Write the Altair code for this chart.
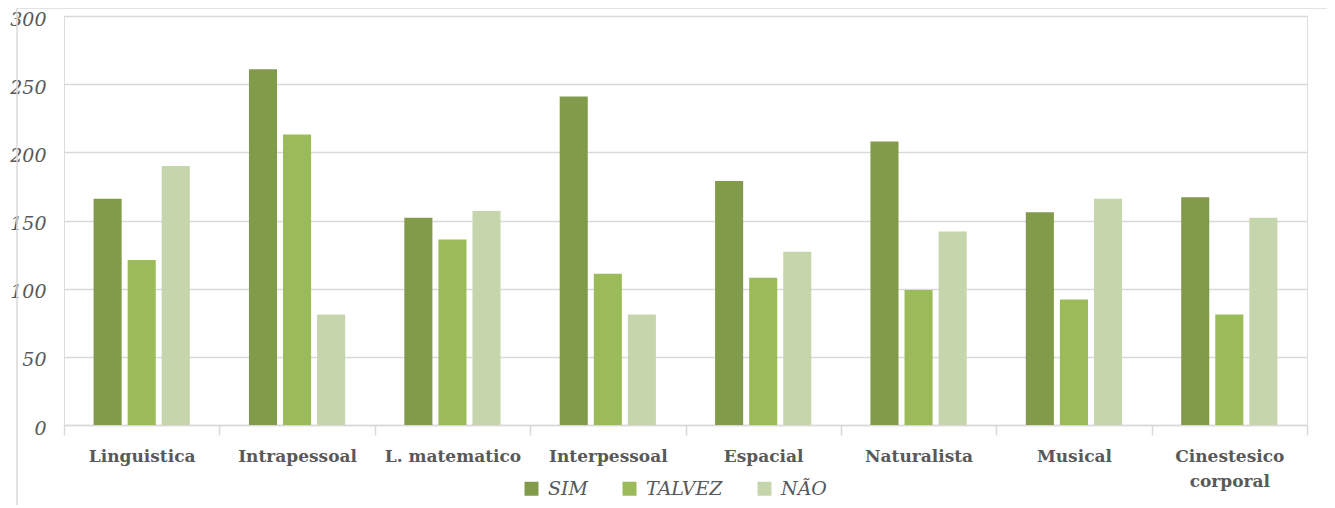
import altair as alt
import pandas as pd

categories = ["Linguistica", "Intrapessoal", "L. matematico", "Interpessoal",
              "Espacial", "Naturalista", "Musical", "Cinestesico corporal"]
series = ["SIM", "TALVEZ", "NÃO"]
sim = [166, 261, 152, 241, 179, 208, 156, 167]
talvez = [121, 213, 136, 111, 108, 99, 92, 81]
nao = [190, 81, 157, 81, 127, 142, 166, 152]
colors = ["#819b4a", "#9bbb59", "#c6d6ac"]

rows = []
for i, c in enumerate(categories):
    for s, vals in zip(series, [sim, talvez, nao]):
        rows.append({"cat": c, "serie": s, "valor": vals[i]})
df = pd.DataFrame(rows)

W, H = 1243, 409
serif = "DejaVu Serif"

bars = alt.Chart(df).mark_bar().encode(
    x=alt.X("cat:N", sort=categories, title=None,
            scale=alt.Scale(paddingInner=0, paddingOuter=0),
            axis=alt.Axis(labelAngle=0, tickBand="extent", ticks=True, tickSize=10,
                          tickColor="#d9d9d9", tickWidth=1.5, domainColor="#d9d9d9",
                          domainWidth=1.5, labelFont=serif, labelFontWeight="bold",
                          labelFontSize=17, labelColor="#595959", labelPadding=13,
                          labelLineHeight=25, grid=False,
                          labelExpr="datum.label == 'Cinestesico corporal' ? ['Cinestesico', 'corporal'] : datum.label")),
    xOffset=alt.XOffset("serie:N", sort=series,
                        scale=alt.Scale(paddingInner=0.176, paddingOuter=0.868)),
    y=alt.Y("valor:Q", title=None,
            scale=alt.Scale(domain=[0, 300], nice=False),
            axis=alt.Axis(values=[0, 50, 100, 150, 200, 250, 300], ticks=False, domain=False,
                          gridColor="#d9d9d9", gridWidth=1.5, labelFont=serif,
                          labelFontStyle="italic", labelFontSize=19, labelColor="#595959",
                          labelPadding=18, labelOffset=3)),
    color=alt.Color("serie:N", sort=series,
                    scale=alt.Scale(domain=series, range=colors),
                    legend=alt.Legend(title=None, orient="none", direction="horizontal",
                                      legendX=458, legendY=463, symbolType="square",
                                      symbolSize=196, symbolStrokeWidth=0,
                                      labelFont=serif, labelFontStyle="italic",
                                      labelFontSize=19, labelColor="#595959",
                                      columnPadding=32, labelOffset=7)),
)

frame = alt.Chart(pd.DataFrame({"a": [0]})).mark_rect(
    fill="transparent", stroke="#d9d9d9", strokeWidth=1.5
).encode(x=alt.value(-47), x2=alt.value(1268), y=alt.value(-8), y2=alt.value(520))

chart = alt.layer(frame, bars).properties(
    width=W, height=H,
    autosize=alt.AutoSizeParams(type="none"),
    padding={"left": 56, "top": 8, "right": 20, "bottom": 80},
).configure_view(stroke=None).configure(background="white")

chart.save("out.html", embed_options={"renderer": "svg", "actions": False})
